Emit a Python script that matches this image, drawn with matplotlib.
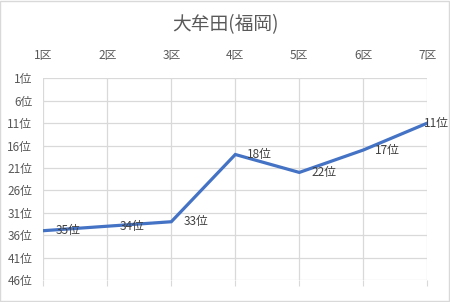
import matplotlib
matplotlib.use("Agg")
import matplotlib.pyplot as plt
from matplotlib.patches import Rectangle

plt.rcParams["font.family"] = ["Noto Sans CJK JP", "DejaVu Sans"]

# ── Data ─────────────────────────────────────────────────────────────
title = "大牟田(福岡)"
districts = ["1区", "2区", "3区", "4区", "5区", "6区", "7区"]
ranks = [35, 34, 33, 18, 22, 17, 11]
y_ticks = [1, 6, 11, 16, 21, 26, 31, 36, 41, 46]
y_labels = [f"{v}位" for v in y_ticks]

LINE = "#4472C4"
GRID = "#d9d9d9"
TXT = "#595959"

fig = plt.figure(figsize=(4.5, 3.02), dpi=100)
ax = fig.add_axes([43.3 / 450, 1 - 280 / 302, (427.3 - 43.3) / 450, (280 - 78.3) / 302])

x = list(range(len(districts)))
ax.plot(x, ranks, color=LINE, lw=2.3, solid_joinstyle="miter", zorder=3)
for xi, r in zip(x, ranks):
    # last label is pushed back inside the chart, like the original
    dx = 12 if xi < len(x) - 1 else -3
    ax.annotate(f"{r}位", (xi, r), xytext=(dx, 0), textcoords="offset pixels",
                ha="left", va="center", fontsize=8.5, color="#404040", zorder=4)

ax.set_xlim(0, len(districts) - 1)
ax.set_ylim(46, 1)
ax.set_xticks(x)
ax.set_xticklabels(districts)
ax.set_yticks(y_ticks)
ax.set_yticklabels(y_labels)

ax.grid(True, color=GRID, lw=0.9)
ax.set_axisbelow(True)
for s in ax.spines.values():
    s.set_visible(False)
ax.tick_params(axis="x", bottom=True, top=False, labelbottom=False, labeltop=True,
               length=4, color=GRID, pad=8, labelsize=8.5, labelcolor=TXT)
ax.tick_params(axis="y", left=False, length=0, pad=8, labelsize=8.5, labelcolor=TXT)

fig.text(0.5, 1 - 25 / 302, title, ha="center", va="center", fontsize=13.5, color=TXT)
fig.patches.append(Rectangle((0.001, 0.002), 0.997, 0.995, transform=fig.transFigure,
                             fill=False, edgecolor=GRID, lw=1))

fig.savefig("out.png", dpi=100)
